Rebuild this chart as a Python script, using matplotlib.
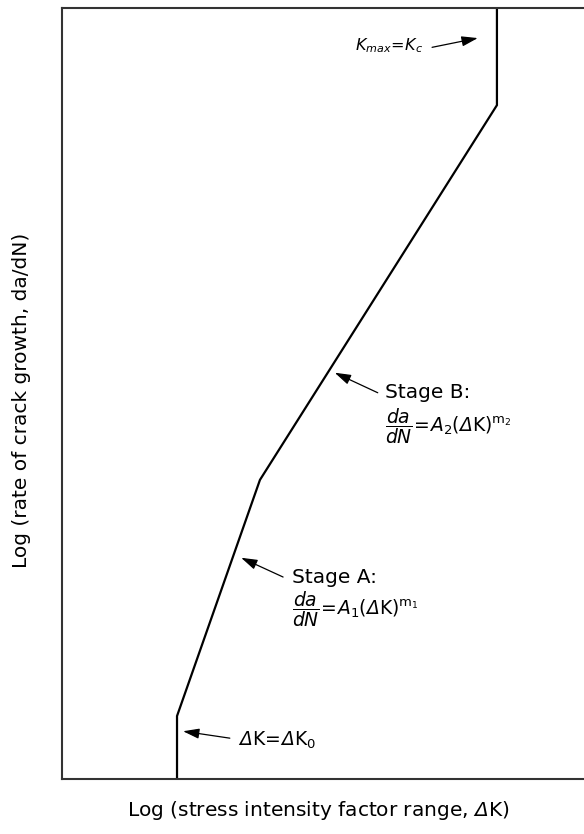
import matplotlib
matplotlib.use("Agg")
import matplotlib.pyplot as plt

# log(dK) vs log(da/dN), arbitrary units (0..1 on each axis)
log_dk = [0.2138, 0.2138, 0.368, 0.8086, 0.8086]
log_dadn = [0.0, 0.0817, 0.388, 0.874, 1.0]

plt.rcParams["font.family"] = "DejaVu Sans"
plt.rcParams["mathtext.fontset"] = "custom"
plt.rcParams["mathtext.rm"] = "DejaVu Sans"
plt.rcParams["mathtext.it"] = "DejaVu Sans:italic"
plt.rcParams["mathtext.bf"] = "DejaVu Sans:bold"
# \mathsf is used for a slanted capital delta (\mathit keeps Greek capitals upright)
plt.rcParams["mathtext.sf"] = "DejaVu Sans:oblique"

D = r"\mathsf{Δ}"

fig = plt.figure(figsize=(5.84, 8.34), dpi=100)
ax = fig.add_axes([0.1062, 0.0659, 0.921, 0.9245])
ax.plot(log_dk, log_dadn, color="black", lw=1.6, solid_joinstyle="miter")
ax.set_xlim(0, 1)
ax.set_ylim(0, 1)
ax.set_xticks([]); ax.set_yticks([])
for sp in ax.spines.values():
    sp.set_color("#333333"); sp.set_linewidth(1.5)

arrow = dict(arrowstyle="-|>,head_length=0.7,head_width=0.22", color="black",
             lw=0.9, mutation_scale=14, shrinkA=0, shrinkB=0)
fs = 14.5
fm = 13.5

ax.text(0.672, 0.951, r"$K_{max}\!=\!K_c$", fontsize=11.5, va="center", ha="right")
ax.annotate("", xy=(0.773, 0.961), xytext=(0.688, 0.949), arrowprops=arrow)

ax.annotate("", xy=(0.507, 0.527), xytext=(0.587, 0.501), arrowprops=arrow)
ax.text(0.600, 0.501, "Stage B:", fontsize=fs, va="center", ha="left")
ax.text(0.600, 0.458, r"$\dfrac{da}{dN}\!=\!A_2(" + D + r"\mathrm{K})^{\mathrm{m}_2}$",
        fontsize=fm, va="center", ha="left")

ax.annotate("", xy=(0.333, 0.287), xytext=(0.411, 0.262), arrowprops=arrow)
ax.text(0.4275, 0.262, "Stage A:", fontsize=fs, va="center", ha="left")
ax.text(0.4275, 0.221, r"$\dfrac{da}{dN}\!=\!A_1(" + D + r"\mathrm{K})^{\mathrm{m}_1}$",
        fontsize=fm, va="center", ha="left")

ax.annotate("", xy=(0.225, 0.062), xytext=(0.312, 0.053), arrowprops=arrow)
ax.text(0.327, 0.0506, "$" + D + r"\mathrm{K}\!=\!" + D + r"\mathrm{K}_0$",
        fontsize=13.5, va="center", ha="left")

fig.text(318 / 584, 1 - 810 / 834, "Log (stress intensity factor range, $" + D + "$K)",
         fontsize=fs, ha="center", va="center")
fig.text(22 / 584, 1 - 400 / 834, "Log (rate of crack growth, da/dN)",
         fontsize=fs, ha="center", va="center", rotation=90)

fig.savefig("out.png", dpi=100)
